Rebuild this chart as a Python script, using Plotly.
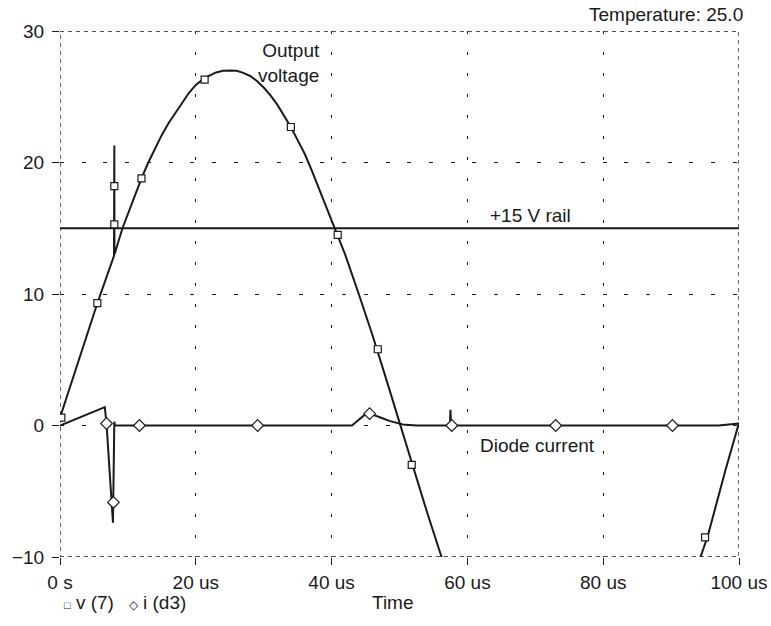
import plotly.graph_objects as go

# v(7) output voltage trace (us, V)
v_time = [0, 2, 4, 5.5, 7.95, 8.0, 8.02, 9.2, 10, 11, 12, 13, 14, 15, 16, 17, 18, 19, 20, 21, 22, 23,
          24, 25, 26, 27, 28, 29, 30, 31, 32, 33, 34, 35, 36, 37, 38, 39, 40, 42, 44, 46, 48, 50,
          52, 54, 56, 60, 70, 80, 90, 94, 95.4, 98, 100]
v_volts = [0.6, 3.7, 6.8, 9.3, 12.9, 21.3, 13.0, 15.0, 16.1, 17.5, 18.8, 20.0, 21.1, 22.1, 23.0, 23.8,
           24.6, 25.3, 25.9, 26.3, 26.6, 26.85, 26.97, 27.0, 26.97, 26.82, 26.58, 26.2, 25.7, 25.1,
           24.4, 23.6, 22.7, 21.7, 20.7, 19.5, 18.2, 17.0, 15.7, 13.0, 10.0, 6.9, 3.6, 0.2, -3.2,
           -6.5, -9.7, -16.0, -25.7, -25.7, -16.0, -10.5, -8.4, -3.4, 0.2]

# i(d3) diode current trace
i_time = [0, 6.6, 6.85, 7.8, 8.0, 8.1, 43, 44, 44.8, 45.6, 46.5, 47.5, 48.5, 49.5, 50.5, 52.5, 57.3,
          57.45, 57.5, 57.6, 57.8, 58.2, 97, 100]
i_amps = [0.0, 1.4, 0.15, -7.4, 0.3, 0.0, 0.0, 0.45, 0.78, 0.9, 0.75, 0.55, 0.35, 0.18, 0.07, 0.0,
          0.0, 0.3, 1.2, 0.0, -0.15, 0.0, 0.0, 0.15]

# marker positions along each trace
v_mark_t = [0.2, 5.5, 8.0, 8.0, 12.0, 21.3, 34.0, 40.9, 46.8, 51.8, 95.0]
v_mark_v = [0.6, 9.3, 18.2, 15.3, 18.8, 26.3, 22.7, 14.5, 5.8, -3.0, -8.5]
i_mark_t = [6.85, 7.87, 11.7, 29.1, 45.6, 57.7, 73.0, 90.2]
i_mark_a = [0.15, -5.85, 0.0, 0.0, 0.9, 0.0, 0.0, 0.0]

rail_time = [0, 100]
rail_volts = [15, 15]

x_ticks = [0, 20, 40, 60, 80, 100]
x_labels = ["0 s", "20 us", "40 us", "60 us", "80 us", "100 us"]
y_ticks = [-10, 0, 10, 20, 30]
y_labels = ["\u221210", "0", "10", "20", "30"]

font = "Liberation Sans, Arial, sans-serif"
ink = "#1a1a1a"

fig = go.Figure()
fig.add_trace(go.Scatter(x=rail_time, y=rail_volts, mode="lines",
                         line=dict(color=ink, width=1.8)))
fig.add_trace(go.Scatter(x=v_time, y=v_volts, mode="lines",
                         line=dict(color=ink, width=2)))
fig.add_trace(go.Scatter(x=i_time, y=i_amps, mode="lines",
                         line=dict(color=ink, width=2)))
fig.add_trace(go.Scatter(x=v_mark_t, y=v_mark_v, mode="markers",
                         marker=dict(symbol="square", size=7, color="white",
                                     line=dict(color=ink, width=1.2))))
fig.add_trace(go.Scatter(x=i_mark_t, y=i_mark_a, mode="markers",
                         marker=dict(symbol="diamond", size=9, color="white",
                                     line=dict(color=ink, width=1.2))))

# dashed plot frame
fig.add_shape(type="rect", x0=0, x1=100, y0=-10, y1=30, xref="x", yref="y",
              line=dict(color=ink, width=1.3, dash="4px,4px"), layer="below")

fig.add_annotation(x=38.6, y=27.6, text="Output<br>voltage", showarrow=False,
                   xanchor="right", yanchor="middle", align="right",
                   font=dict(size=19, color=ink))
fig.add_annotation(x=69.3, y=16.0, text="+15 V rail", showarrow=False,
                   font=dict(size=19, color=ink))
fig.add_annotation(x=70.3, y=-1.5, text="Diode current", showarrow=False,
                   font=dict(size=19, color=ink))
fig.add_annotation(x=1.009, y=1.0, xref="paper", yref="paper", text="Temperature: 25.0",
                   showarrow=False, xanchor="right", yanchor="bottom", yshift=4,
                   font=dict(size=19, color=ink))
fig.add_annotation(x=0.003, y=-0.087, xref="paper", yref="paper",
                   text="<span style='font-size:11px'>\u25a1</span> v (7)\u2002 "
                        "<span style='font-size:12px'>\u25c7</span> i (d3)",
                   showarrow=False, xanchor="left",
                   yanchor="middle", font=dict(size=19, color=ink))
fig.add_annotation(x=0.49, y=-0.087, xref="paper", yref="paper", text="Time",
                   showarrow=False, xanchor="center", yanchor="middle",
                   font=dict(size=19, color=ink))

fig.update_xaxes(range=[0, 100], tickvals=x_ticks, ticktext=x_labels, showgrid=True,
                 gridcolor=ink, gridwidth=1.4, griddash="3px,18px", zeroline=False,
                 showline=False, ticks="outside", ticklen=7, tickcolor=ink, automargin=False,
                 ticklabelstandoff=1, tickfont=dict(size=19, color=ink))
fig.update_yaxes(range=[-10, 30], tickvals=y_ticks, ticktext=y_labels, showgrid=True,
                 gridcolor=ink, gridwidth=1.4, griddash="4px,17.7px", zeroline=False,
                 showline=False, ticks="outside", ticklen=7, tickcolor=ink, automargin=False,
                 ticklabelstandoff=4, tickfont=dict(size=19, color=ink))
fig.update_layout(width=771, height=626, showlegend=False, plot_bgcolor="white",
                  paper_bgcolor="white", font=dict(family=font, color=ink),
                  margin=dict(l=60, r=32, t=31, b=69))
# drop the page's default body margin so the figure sits at the window origin
fig.write_html("out.html", config={"displayModeBar": False},
               post_script="document.body.style.margin='0';")
